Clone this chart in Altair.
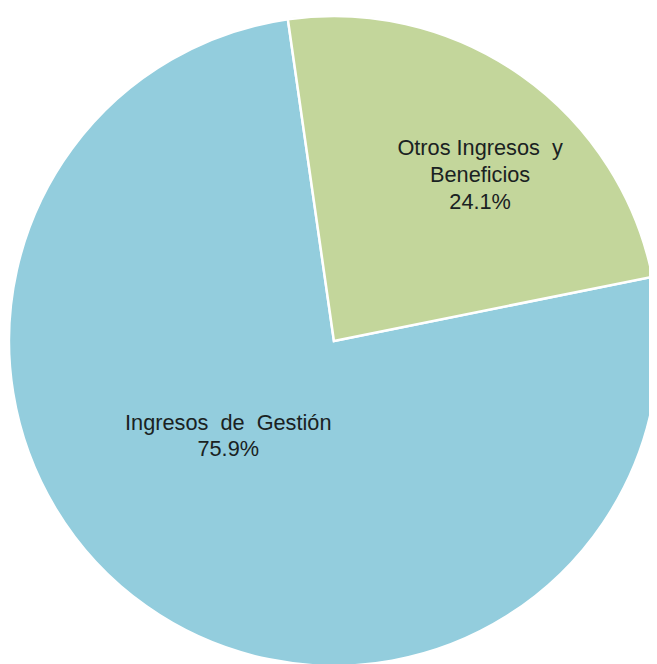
import altair as alt
import pandas as pd

categorias = ["Ingresos de Gestión", "Otros Ingresos y Beneficios"]
etiquetas = ["Ingresos\u00a0 de\u00a0 Gestión\n75.9%", "Otros Ingresos\u00a0 y\nBeneficios\n24.1%"]
porcentajes = [75.9, 24.1]
orden = [1, 2]
colores = ["#93CDDD", "#C3D69B"]

df = pd.DataFrame({
    "categoria": categorias,
    "etiqueta": etiquetas,
    "porcentaje": porcentajes,
    "orden": orden,
})

start = 1.372
theta_scale = alt.Scale(range=[start, start + 6.283185])

base = alt.Chart(df)

arcs = base.mark_arc(stroke="white", strokeWidth=2.5).encode(
    theta=alt.Theta("porcentaje:Q", stack=True, scale=theta_scale),
    color=alt.Color("categoria:N", scale=alt.Scale(domain=categorias, range=colores), legend=None),
    order=alt.Order("orden:Q"),
    x=alt.value(330),
    y=alt.value(333),
    radius=alt.value(329),
)

def label_layer(cat, dx, dy):
    return base.transform_calculate(
        txt=f"datum.categoria == '{cat}' ? datum.etiqueta : ''"
    ).mark_text(
        font="Arial", fontSize=22, color="#1a2222",
        lineBreak="\n", lineHeight=27, align="center", baseline="middle",
        dx=dx, dy=dy,
    ).encode(
        theta=alt.Theta("porcentaje:Q", stack=True, scale=theta_scale),
        order=alt.Order("orden:Q"),
        text="txt:N",
        x=alt.value(330),
        y=alt.value(333),
        radius=alt.value(0),
    )

lab_blue = label_layer("Ingresos de Gestión", -107, 83)
lab_green = label_layer("Otros Ingresos y Beneficios", 148, -195)

chart = alt.layer(arcs, lab_blue, lab_green).properties(
    width=649, height=656, padding=0, background="white",
    autosize=alt.AutoSizeParams(type="none"),
).configure_view(stroke=None)

chart.save("out.html", embed_options={"renderer": "svg", "actions": False})
